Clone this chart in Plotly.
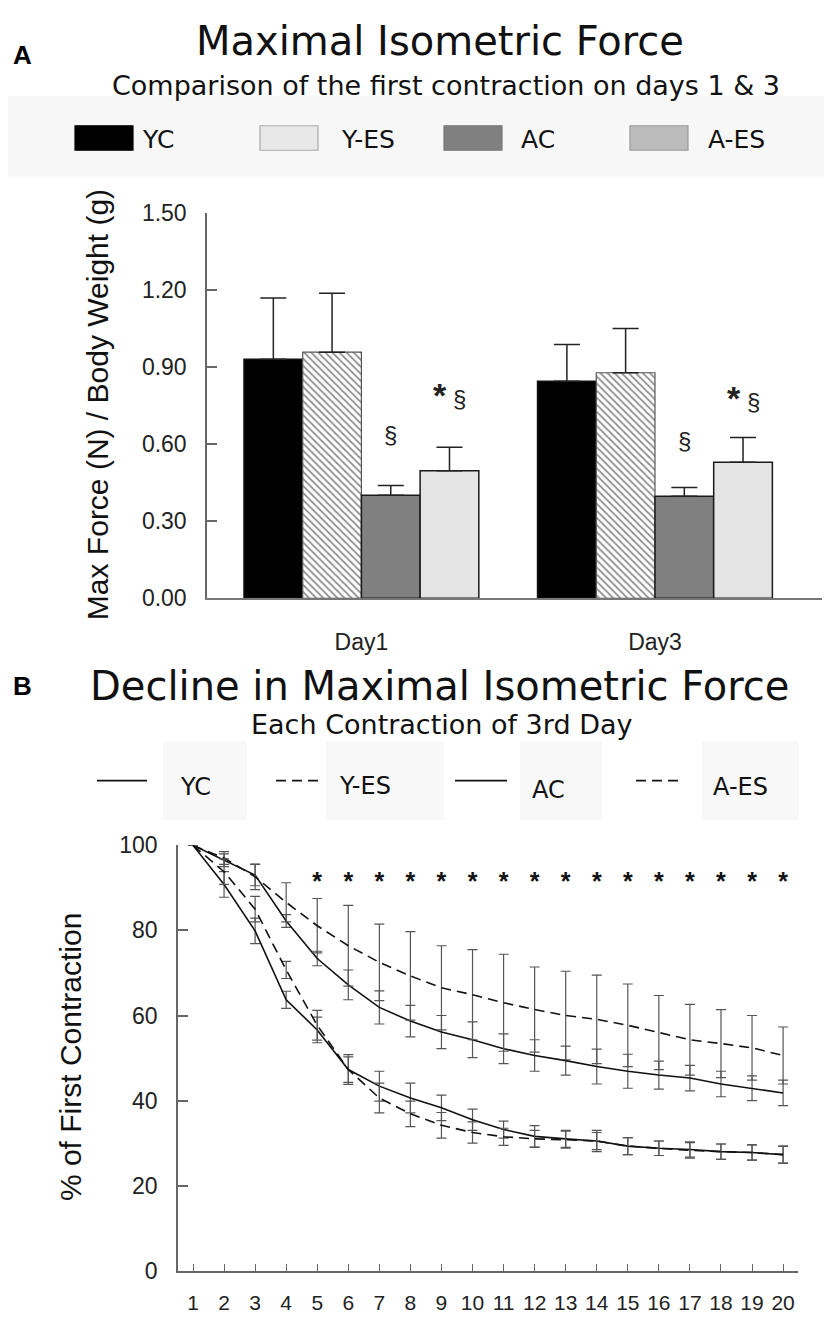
import plotly.graph_objects as go

W, H = 824, 1323

# ---------------- Panel A data ----------------
days = ["Day1", "Day3"]
group_names = ["YC", "Y-ES", "AC", "A-ES"]
yc_force = [0.931, 0.845]
yes_force = [0.958, 0.878]
ac_force = [0.401, 0.397]
aes_force = [0.496, 0.530]
yc_err = [0.238, 0.143]
yes_err = [0.230, 0.172]
ac_err = [0.038, 0.034]
aes_err = [0.092, 0.096]
ac_sig_y = [0.637, 0.614]
aes_sig_y = [0.79, 0.78]
force_ticks = [0.0, 0.3, 0.6, 0.9, 1.2, 1.5]

# ---------------- Panel B data ----------------
contraction = list(range(1, 21))
yc_pct = [100, 96.5, 93.0, 82.2, 73.4, 67.2, 61.9, 58.7, 56.1, 54.3,
          52.2, 50.6, 49.4, 48.0, 46.9, 46.0, 45.3, 43.9, 42.9, 41.8]
yc_pct_err = [0, 1.5, 2.5, 1.5, 1.7, 3.5, 3.9, 3.7, 3.9, 4.2,
              3.5, 3.7, 3.4, 4.1, 4.0, 3.3, 3.0, 3.0, 2.9, 3.0]
yes_pct = [100, 97.0, 92.6, 86.6, 81.1, 76.4, 72.5, 69.3, 66.5, 64.9,
           63.0, 61.4, 60.0, 59.1, 57.7, 56.0, 54.3, 53.4, 52.4, 50.6]
yes_pct_err = [0, 1.5, 3.0, 4.6, 6.4, 9.5, 9.0, 10.4, 9.9, 10.6,
               11.4, 10.0, 10.4, 10.4, 9.7, 8.7, 8.3, 8.0, 7.6, 6.7]
ac_pct = [100, 90.8, 79.9, 63.7, 56.6, 47.3, 43.4, 40.6, 38.3, 35.5,
          33.2, 31.6, 31.0, 30.5, 29.3, 28.8, 28.5, 28.0, 27.8, 27.3]
ac_pct_err = [0, 3.0, 3.0, 2.0, 3.0, 3.0, 3.5, 3.5, 3.0, 2.5,
              2.0, 2.5, 2.0, 2.5, 2.0, 1.7, 1.8, 1.8, 1.8, 2.0]
aes_pct = [100, 93.8, 85.0, 70.7, 57.7, 47.3, 40.6, 36.9, 34.2, 32.5,
           31.5, 31.0, 30.8, 30.5, 29.3, 28.8, 28.3, 28.0, 27.8, 27.3]
aes_pct_err = [0, 3.0, 3.0, 2.0, 3.5, 3.5, 3.5, 3.0, 3.0, 2.5,
               2.0, 2.0, 2.0, 2.0, 2.0, 1.7, 1.8, 1.8, 1.8, 2.0]
sig_contractions = list(range(5, 21))
sig_level = [91.0] * len(sig_contractions)
pct_ticks = [0, 20, 40, 60, 80, 100]


def px(x):
    return x / W


def py(y):
    return 1 - y / H


ARIAL = "Liberation Sans, Arial, sans-serif"
WIDE = "DejaVu Sans, Verdana, sans-serif"

fig = go.Figure()

# ---- Panel A bars ----
bar_styles = [
    dict(color="#000000", line=dict(color="#111111", width=1.5)),
    dict(color="#ffffff", line=dict(color="#555555", width=1.2),
         pattern=dict(shape="\\", fgcolor="#222222", bgcolor="#ffffff", size=5, solidity=0.35)),
    dict(color="#808080", line=dict(color="#1a1a1a", width=1.5)),
    dict(color="#e4e4e4", line=dict(color="#1a1a1a", width=1.5)),
]
for name, vals, errs, mk in zip(group_names,
                                [yc_force, yes_force, ac_force, aes_force],
                                [yc_err, yes_err, ac_err, aes_err], bar_styles):
    fig.add_trace(go.Bar(
        x=days, y=vals, name=name, marker=mk, xaxis="x", yaxis="y",
        error_y=dict(type="data", symmetric=False, array=errs,
                     arrayminus=[0] * len(errs), color="#222222",
                     thickness=1.5, width=13),
        showlegend=False))

# ---- Panel B lines ----
line_styles = [("YC", yc_pct, yc_pct_err, "solid"),
               ("Y-ES", yes_pct, yes_pct_err, "10px,6px"),
               ("AC", ac_pct, ac_pct_err, "solid"),
               ("A-ES", aes_pct, aes_pct_err, "10px,6px")]
for name, vals, errs, dash in line_styles:
    fig.add_trace(go.Scatter(
        x=contraction, y=vals, name=name, mode="lines", xaxis="x2", yaxis="y2",
        line=dict(color="#111111", width=1.6, dash=dash),
        error_y=dict(type="data", array=errs, color="#555555", thickness=1.2, width=5),
        showlegend=False))

fig.add_trace(go.Scatter(
    x=sig_contractions, y=sig_level, mode="text", text=["<b>*</b>"] * len(sig_contractions),
    textfont=dict(family=ARIAL, size=25, color="#111111"),
    xaxis="x2", yaxis="y2", showlegend=False, hoverinfo="skip"))

# ---- Axes ----
fig.update_layout(
    width=W, height=H,
    margin=dict(l=0, r=0, t=0, b=0),
    paper_bgcolor="white", plot_bgcolor="white",
    barmode="group", bargap=0.2, bargroupgap=0,
    xaxis=dict(domain=[px(207), px(822)], anchor="y", type="category",
               range=[-0.526, 1.569], showline=True, linecolor="#777777", linewidth=1.5,
               ticks="", showgrid=False, zeroline=False,
               tickfont=dict(family=ARIAL, size=23, color="#222222"),
               ticklabelstandoff=22),
    yaxis=dict(domain=[py(597), py(204)], anchor="x", range=[0, 1.5],
               tickvals=force_ticks, tickformat=".2f",
               showline=True, linecolor="#666666", linewidth=1.5,
               ticks="inside", ticklen=10, tickcolor="#666666", tickwidth=1.5,
               showgrid=False, zeroline=False,
               tickfont=dict(family=ARIAL, size=23, color="#222222"),
               ticklabelstandoff=14),
    xaxis2=dict(domain=[px(178), px(798)], anchor="y2", range=[0.517, 20.48],
                tickvals=contraction, showline=True, linecolor="#666666", linewidth=1.5,
                ticks="inside", ticklen=7, tickcolor="#666666", tickwidth=1.2,
                showgrid=False, zeroline=False,
                tickfont=dict(family=ARIAL, size=21, color="#222222"),
                ticklabelstandoff=12),
    yaxis2=dict(domain=[py(1283), py(849)], anchor="x2", range=[0, 100],
                tickvals=pct_ticks, showline=True, linecolor="#666666", linewidth=1.5,
                ticks="inside", ticklen=10, tickcolor="#666666", tickwidth=1.5,
                showgrid=False, zeroline=False,
                tickfont=dict(family=ARIAL, size=23, color="#222222"),
                ticklabelstandoff=14),
)

shapes = []
ann = []


def note(text, x, y, size, family=ARIAL, angle=0, ref="paper", color="#111111"):
    d = dict(text=text, x=x, y=y, xref=ref if ref != "paper" else "paper",
             yref=ref.replace("x", "y") if ref != "paper" else "paper",
             xanchor="center", yanchor="middle", showarrow=False, textangle=angle,
             font=dict(family=family, size=size, color=color))
    ann.append(d)


# ---- Panel A titles ----
note("<b>A</b>", px(22), py(43), 26, color="#000000")
note("Maximal Isometric Force", px(440), py(29), 40, WIDE)
note("Comparison of the first contraction on days 1 & 3", px(446), py(74), 27, WIDE)

# ---- Panel A legend ----
shapes.append(dict(type="rect", xref="paper", yref="paper", x0=px(8), x1=px(824),
                   y0=py(167), y1=py(85), fillcolor="#f7f7f7", line=dict(width=0), layer="below"))
legA = [("YC", "#000000", "#000000", 75, 158),
        ("Y-ES", "#e8e8e8", "#aaaaaa", 260, 368),
        ("AC", "#808080", "#777777", 444, 538),
        ("A-ES", "#bcbcbc", "#999999", 630, 736)]
for lab, fill, edge, x0, tx in legA:
    shapes.append(dict(type="rect", xref="paper", yref="paper", x0=px(x0), x1=px(x0 + 58),
                       y0=py(140), y1=py(115), fillcolor=fill, line=dict(color=edge, width=1.2)))
    note(lab, px(tx), py(129), 25, WIDE)

# ---- Panel A significance markers ----
bar_w = 0.8 / len(group_names)
off_ac = -0.4 + bar_w * 2.5
off_aes = -0.4 + bar_w * 3.5
for i in range(len(days)):
    note("§", i + off_ac, ac_sig_y[i], 24, ref="x", color="#222222")
    note('<span style="font-size:34px"><b>*</b></span> §', i + off_aes, aes_sig_y[i], 24,
         ref="x", color="#222222")

note("Max Force (N) / Body Weight (g)", px(97), py(400), 30, angle=-90)

# ---- Panel B titles ----
note("<b>B</b>", px(22), py(686), 26, color="#000000")
note("Decline in Maximal Isometric Force", px(439), py(687), 40, WIDE)
note("Each Contraction of 3rd Day", px(441), py(726), 27, WIDE)

# ---- Panel B legend ----
legB = [("YC", "solid", 97, 147, 163, 247, 195, 790),
        ("Y-ES", "dash", 276, 323, 326, 444, 365, 788),
        ("AC", "solid", 455, 507, 520, 602, 548, 793),
        ("A-ES", "dash", 636, 683, 702, 799, 740, 790)]
for lab, dash, lx0, lx1, bx0, bx1, tx, ty in legB:
    shapes.append(dict(type="rect", xref="paper", yref="paper", x0=px(bx0), x1=px(bx1),
                       y0=py(823), y1=py(743), fillcolor="#f8f8f8", line=dict(width=0),
                       layer="below"))
    shapes.append(dict(type="line", xref="paper", yref="paper", x0=px(lx0), x1=px(lx1),
                       y0=py(783), y1=py(783),
                       line=dict(color="#111111", width=1.8,
                                 dash="10px,6px" if dash == "dash" else "solid")))
    note(lab, px(tx), py(ty), 24, WIDE)

note("% of First Contraction", px(70), py(1065), 30, angle=-90)

fig.update_layout(shapes=shapes, annotations=ann)

post = (
    "document.documentElement.style.margin='0px';"
    "document.documentElement.style.padding='0px';"
    "document.documentElement.style.overflow='hidden';"
    "document.documentElement.style.height='1323px';"
    "document.body.style.margin='0px';"
    "document.body.style.padding='0px';"
    "document.body.style.overflow='hidden';"
    "document.body.style.height='1323px';"
    "var gd=document.getElementById('{plot_id}');"
    "gd.style.position='absolute';gd.style.left='0px';gd.style.top='0px';"
)
fig.write_html("out.html", config={"displayModeBar": False}, post_script=post)
